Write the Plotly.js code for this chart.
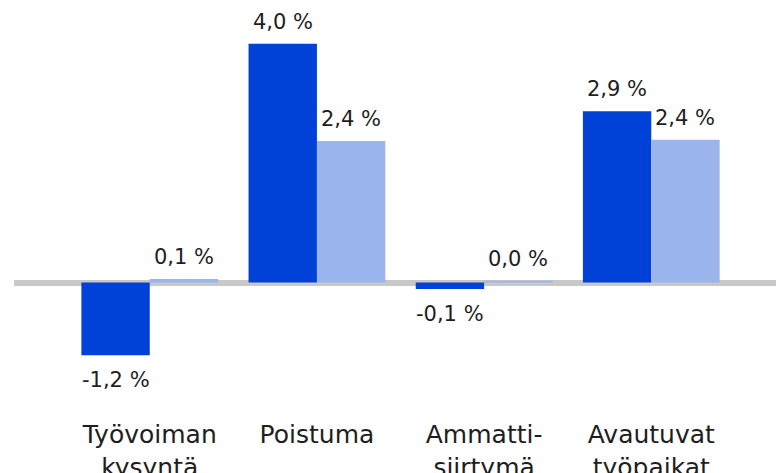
<!DOCTYPE html>
<html>
<head>
<meta charset="utf-8">
<script src="https://cdn.plot.ly/plotly-3.0.1.min.js"></script>
<style>html,body{margin:0;padding:0;background:#fff;}#chart{width:776px;height:473px;}</style>
</head>
<body>
<div id="chart"></div>
<script>
var categories = ['Työvoiman kysyntä', 'Poistuma', 'Ammatti-siirtymä', 'Avautuvat työpaikat'];
var tickLabels = ['Työvoiman<br>kysyntä', 'Poistuma', 'Ammatti-<br>siirtymä', 'Avautuvat<br>työpaikat'];
var seriesA = [-1.22, 4.0, -0.11, 2.87];
var seriesB = [0.06, 2.37, 0.03, 2.39];

var darkBlue = 'rgb(0,65,216)';
var lightBlue = 'rgb(154,180,238)';
var textColor = '#1e1e1e';
var bargap = 0.182;

function fmt(v) {
  return v.toFixed(1).replace('.', ',').replace('-0,0', '0,0') + ' %';
}

var traces = [
  {type: 'bar', x: categories, y: seriesA, marker: {color: darkBlue, line: {width: 0}}, hoverinfo: 'none'},
  {type: 'bar', x: categories, y: seriesB, marker: {color: lightBlue, line: {width: 0}}, hoverinfo: 'none'}
];

var half = (1 - bargap) / 4;
var annotations = [];
[seriesA, seriesB].forEach(function (s, si) {
  s.forEach(function (v, i) {
    var pos = v >= 0;
    annotations.push({
      x: i + (si === 0 ? -half : half), y: v, xref: 'x', yref: 'y',
      text: fmt(v), showarrow: false,
      yanchor: pos ? 'bottom' : 'top', xanchor: 'center',
      yshift: pos ? 8 : -11,
      font: {family: 'DejaVu Sans, Verdana, sans-serif', size: 21, color: textColor}
    });
  });
});

var layout = {
  width: 776, height: 473,
  margin: {l: 14, r: 0, t: 0, b: 56, pad: 0},
  paper_bgcolor: '#ffffff', plot_bgcolor: '#ffffff',
  showlegend: false,
  barmode: 'group', bargap: bargap, bargroupgap: 0,
  font: {family: 'DejaVu Sans, Verdana, sans-serif', color: textColor},
  xaxis: {
    type: 'category', range: [-0.812, 3.746],
    tickmode: 'array', tickvals: categories, ticktext: tickLabels,
    tickfont: {size: 25, color: textColor},
    showgrid: false, showline: false, zeroline: false, ticks: '', automargin: false
  },
  yaxis: {
    range: [-2.253, 4.732], showgrid: false, showticklabels: false, ticks: '',
    zeroline: true, zerolinecolor: '#c8c8c8', zerolinewidth: 6, showline: false, automargin: false
  },
  annotations: annotations
};

Plotly.newPlot('chart', traces, layout, {displayModeBar: false, staticPlot: true});
</script>
</body>
</html>
